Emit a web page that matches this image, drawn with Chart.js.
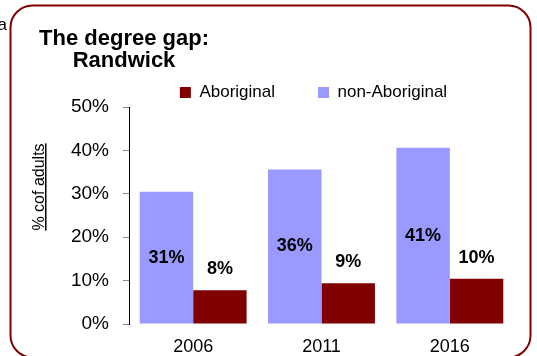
<!DOCTYPE html>
<html>
<head>
<meta charset="utf-8">
<script src="https://cdn.jsdelivr.net/npm/chart.js@4.4.1/dist/chart.umd.min.js"></script>
<style>
html, body { margin: 0; padding: 0; background: #fff; }
#wrap { width: 537px; height: 356px; }
</style>
</head>
<body>
<div id="wrap"><canvas id="gapCtx" width="537" height="356"></canvas></div>
<script>
var years = ['2006', '2011', '2016']
var nonAboriginal = [30.5, 35.6, 40.6]
var aboriginal = [7.8, 9.4, 10.4]
var seriesNames = ['non-Aboriginal', 'Aboriginal']
var titleLines = ['The degree gap:', 'Randwick']
var yTitle = '% cof adults'

var FONT = "'Liberation Sans', Arial, sans-serif"

// frame, title, y title and value labels
var decorPlugin = {
    id: 'decor',
    beforeDraw: function(chart) {
        var c = chart.ctx
        c.save()
        c.fillStyle = '#fff'
        c.fillRect(0, 0, chart.width, chart.height)
        c.restore()
    },
    afterLayout: function(chart) {
        // nudge legend a bit left, like the original
        chart.legend.left -= 8
        chart.legend.right -= 8
    },
    afterDatasetsDraw: function(chart) {
        var c = chart.ctx
        c.save()
        c.fillStyle = '#000'
        c.font = 'bold 18px ' + FONT
        c.textAlign = 'center'
        c.textBaseline = 'middle'
        chart.data.datasets.forEach(function(ds, i) {
            var meta = chart.getDatasetMeta(i)
            meta.data.forEach(function(bar, j) {
                var txt = Math.round(ds.data[j]) + '%'
                var y = i === 0 ? (bar.y + bar.base) / 2 : bar.y - 21
                c.fillText(txt, bar.x, y)
            })
        })
        c.restore()
    },
    afterDraw: function(chart) {
        var c = chart.ctx
        c.save()
        c.strokeStyle = '#800000'
        c.lineWidth = 2
        c.beginPath()
        c.roundRect(10.5, 5.5, 520, 352, 22)
        c.stroke()

        c.fillStyle = '#000'
        c.font = '17px ' + FONT
        c.textAlign = 'left'
        c.textBaseline = 'alphabetic'
        c.fillText('a', -2.5, 30)

        c.font = 'bold 22px ' + FONT
        c.textAlign = 'center'
        c.fillText(titleLines[0], 124, 45)
        c.fillText(titleLines[1], 124, 67)

        c.translate(44, 187)
        c.rotate(-Math.PI / 2)
        c.font = '16px ' + FONT
        c.fillText(yTitle, 0, 0)
        var w = c.measureText(yTitle).width
        c.fillRect(-w / 2, 1, w, 1.5)
        c.restore()
    }
}

var ctx = document.getElementById('gapCtx')
new Chart(ctx, {
    type: 'bar',
    data: {
        labels: years,
        datasets: [
            {
                label: seriesNames[0],
                data: nonAboriginal,
                backgroundColor: '#9999FF',
                borderWidth: 0,
                categoryPercentage: 0.833,
                barPercentage: 1
            },
            {
                label: seriesNames[1],
                data: aboriginal,
                backgroundColor: '#800000',
                borderWidth: 0,
                categoryPercentage: 0.833,
                barPercentage: 1
            }
        ]
    },
    options: {
        responsive: false,
        animation: false,
        devicePixelRatio: 1,
        layout: {
            padding: { left: 71, right: 23, top: 41, bottom: 0 }
        },
        plugins: {
            tooltip: { enabled: false },
            title: { display: false },
            legend: {
                display: true,
                position: 'top',
                fullSize: false,
                reverse: true,
                maxHeight: 66,
                labels: {
                    boxWidth: 11,
                    boxHeight: 11,
                    padding: 43,
                    color: '#000',
                    font: { family: FONT, size: 17 }
                }
            }
        },
        scales: {
            x: {
                afterFit: function(s) { s.height = 32 },
                grid: { display: false, drawTicks: false },
                border: { display: false },
                ticks: {
                    color: '#000',
                    padding: 14,
                    font: { family: FONT, size: 18, lineHeight: 1 }
                }
            },
            y: {
                min: 0,
                max: 50,
                afterFit: function(s) { s.width = 58 },
                grid: {
                    display: true,
                    drawOnChartArea: false,
                    drawTicks: true,
                    tickLength: 6,
                    color: '#888'
                },
                border: { display: true, color: '#000', width: 1 },
                ticks: {
                    stepSize: 10,
                    color: '#000',
                    padding: 14,
                    font: { family: FONT, size: 19 },
                    callback: function(v) { return v + '%' }
                }
            }
        }
    },
    plugins: [decorPlugin]
})
</script>
</body>
</html>
